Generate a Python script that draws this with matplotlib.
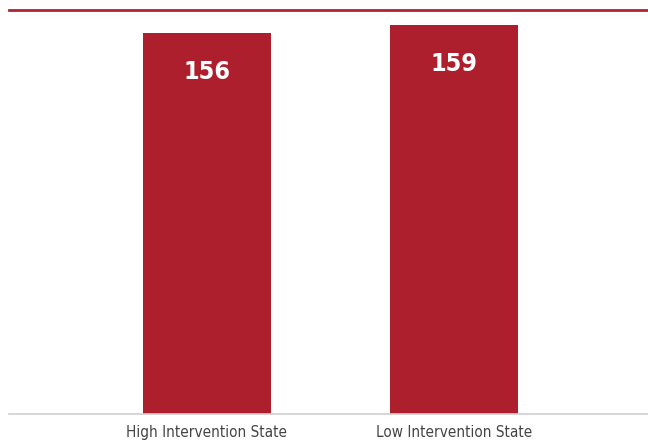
import matplotlib.pyplot as plt
import numpy as np

categories = ['High Intervention State', 'Low Intervention State']
values = [156, 159]

bar_color = '#ad1f2d'
plt.rcParams['font.family'] = ['Liberation Sans Narrow', 'DejaVu Sans']
plt.rcParams['font.stretch'] = 'condensed'

fig = plt.figure(figsize=(6.48, 4.44), dpi=100, facecolor='white')
ax = fig.add_axes([9/648, 30/444, 639/648, 404/444])

X = np.arange(len(categories))
bars = ax.bar(X, values, width=0.518, color=bar_color, zorder=2)

# value labels inside the bar tops
for b, v in zip(bars, values):
    ax.annotate(str(v), (b.get_x() + b.get_width()/2, v), xytext=(0, -39),
                textcoords='offset pixels', ha='center', va='center',
                color='white', fontsize=18, fontweight='bold')

ax.set_xlim(-0.8, 1.785)
ax.set_ylim(0, 165.3)
ax.set_xticks(X)
ax.set_xticklabels(categories, fontsize=11, color='#444444')
ax.tick_params(axis='x', length=0, pad=8)
ax.set_yticks([])

for s in ['left', 'right']:
    ax.spines[s].set_visible(False)
ax.spines['bottom'].set_color('#d0d0d0')
ax.spines['bottom'].set_linewidth(1.2)
ax.spines['top'].set_color('#b22234')
ax.spines['top'].set_linewidth(2)

fig.savefig('out.png', dpi=100, facecolor='white')
